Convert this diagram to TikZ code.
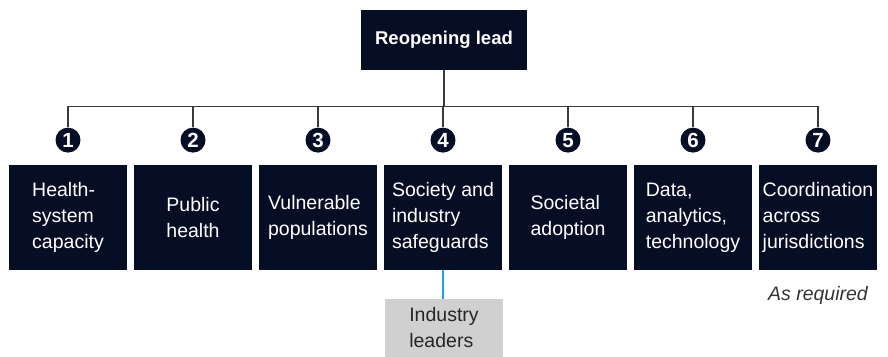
\documentclass[tikz,border=0pt]{standalone}
\usepackage{fontspec}
\setmainfont{Liberation Sans}
\usepackage{xcolor}
\usetikzlibrary{positioning}

\definecolor{navy}{HTML}{050E24}
\definecolor{stone}{HTML}{D0D0D0}
\definecolor{wire}{HTML}{3A3A3A}
\definecolor{sky}{HTML}{1FA2E0}

\tikzset{
  leadbox/.style={fill=navy, text=white, minimum width=166pt, minimum height=60pt,
    font=\fontsize{18.5}{25}\selectfont\bfseries},
  areabox/.style={fill=navy, text=white, minimum width=118pt, minimum height=105pt,
    align=left, inner sep=0pt, font=\fontsize{19.5}{26}\selectfont},
  numdot/.style={circle, fill=navy, text=white, minimum size=25pt, inner sep=0pt,
    font=\fontsize{20.5}{20}\selectfont\bfseries},
  helperbox/.style={fill=stone, text=black!85, minimum width=118pt, minimum height=58pt,
    align=left, font=\fontsize{19.5}{26}\selectfont},
  tree/.style={draw=wire, line width=1.3pt}
}

\begin{document}
\begin{tikzpicture}[x=1pt,y=-1pt]

\useasboundingbox (0,0) rectangle (888,356);

\node[leadbox] (lead) at (444,40) {Reopening lead};

\node[areabox] (a1) at (68,217.5)  {Health-\\system\\capacity};
\node[areabox] (a2) at (193,217.5) {Public\\health};
\node[areabox] (a3) at (318,217.5) {Vulnerable\\populations};
\node[areabox] (a4) at (443,217.5) {Society and\\industry\\safeguards};
\node[areabox] (a5) at (568,217.5) {Societal\\adoption};
\node[areabox] (a6) at (693,217.5) {Data,\\analytics,\\technology};
\node[areabox] (a7) at (818,217.5) {Coordination\\across\\jurisdictions};

\foreach \i in {1,...,7}
  \node[numdot, above=12pt of a\i] (n\i) {\i};

% tree from the lead down to each number
\foreach \i in {1,...,7}
  \draw[tree] (lead.south) -- ++(0,36) -| (n\i.north);

\node[helperbox] (ind) at (444,328) {Industry\\leaders};
\draw[sky, line width=1.3pt] (a4.south) -- (a4.south |- ind.north);

\node[font=\fontsize{19.5}{22}\selectfont\itshape, text=black!80] (note) at (818,295) {As required};

\end{tikzpicture}
\end{document}
